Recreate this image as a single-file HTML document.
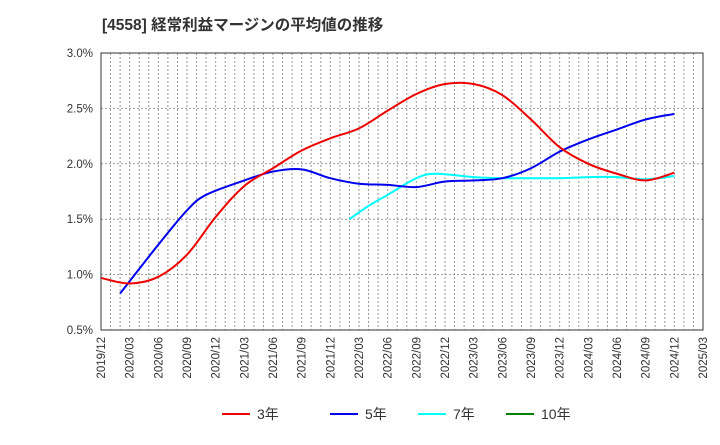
<!DOCTYPE html>
<html><head><meta charset="utf-8"><style>
body{margin:0;background:#fff;font-family:"Liberation Sans","Noto Sans CJK JP",sans-serif}
</style></head><body>
<svg id="c" width="720" height="440" xmlns="http://www.w3.org/2000/svg">
<text x="102" y="30" font-size="15.5" font-weight="bold" fill="#333">[4558]  経常利益マージンの平均値の推移</text>
</svg>
<script>
const yTicks=[0.5,1.0,1.5,2.0,2.5,3.0];
const xLabels=["2019/12","2020/03","2020/06","2020/09","2020/12","2021/03","2021/06","2021/09","2021/12","2022/03","2022/06","2022/09","2022/12","2023/03","2023/06","2023/09","2023/12","2024/03","2024/06","2024/09","2024/12","2025/03"];
// series: month offsets from 2019/12 and values (%)
const s3m=[0,3,6,9,12,15,18,21,24,27,30,33,36,39,42,45,48,51,54,57,60];
const s3v=[0.97,0.92,0.98,1.18,1.52,1.80,1.96,2.12,2.23,2.32,2.48,2.63,2.72,2.72,2.62,2.40,2.15,2.00,1.91,1.85,1.92];
const s5m=[2,6,9,11,15,18,21,24,27,30,33,36,39,42,45,48,51,54,57,60];
const s5v=[0.83,1.27,1.58,1.72,1.85,1.93,1.95,1.87,1.82,1.81,1.79,1.84,1.85,1.87,1.96,2.11,2.22,2.31,2.40,2.45];
const s7m=[26,28,30,33,35,39,42,45,48,51,54,57,60];
const s7v=[1.50,1.62,1.72,1.87,1.91,1.88,1.87,1.87,1.87,1.88,1.88,1.86,1.89];
const L=101,R=703,T=53,B=330;
const X=m=>L+(R-L)*m/63;
const Y=v=>B-(B-T)*(v-0.5)/2.5;
const svg=document.getElementById('c');const NS="http://www.w3.org/2000/svg";
function mk(t,a,name,parent){const e=document.createElementNS(NS,t);for(const k in a)e.setAttribute(k,a[k]);


(parent||svg).appendChild(e);return e;}
for(let m=1;m<63;m++){mk('line',{x1:X(m),x2:X(m),y1:T,y2:B,stroke:'#999','stroke-dasharray':'2,2','stroke-width':1},'v-grid');}
yTicks.forEach(v=>{if(v>0.5&&v<3)mk('line',{x1:L,x2:R,y1:Y(v),y2:Y(v),stroke:'#999','stroke-dasharray':'2,2'},'h-grid');
const t=mk('text',{x:L-8,y:Y(v)+4,'text-anchor':'end','font-size':11.5,fill:'#333'},'y-tick-label');t.textContent=v.toFixed(1)+'%';});
mk('rect',{x:L,y:T,width:R-L,height:B-T,fill:'none',stroke:'#333'},'plot-frame');
xLabels.forEach((s,i)=>{const x=X(i*3);const t=mk('text',{x:0,y:0,transform:`translate(${x+4},${B+7}) rotate(-90)`,'text-anchor':'end','font-size':11.5,fill:'#333'},'x-tick-label');t.textContent=s;});
function path(ms,vs){const p=ms.map((m,i)=>[X(m),Y(vs[i])]);let d=`M${p[0][0]},${p[0][1]}`;
for(let i=0;i<p.length-1;i++){const p0=p[i-1]||p[i],p1=p[i],p2=p[i+1],p3=p[i+2]||p2;
d+=`C${p1[0]+(p2[0]-p0[0])/6},${p1[1]+(p2[1]-p0[1])/6} ${p2[0]-(p3[0]-p1[0])/6},${p2[1]-(p3[1]-p1[1])/6} ${p2[0]},${p2[1]}`;}return d;}
mk('path',{d:path(s7m,s7v),fill:'none',stroke:'#00ffff','stroke-width':2},'series-7y');
mk('path',{d:path(s5m,s5v),fill:'none',stroke:'#0000ee','stroke-width':2},'series-5y');
mk('path',{d:path(s3m,s3v),fill:'none',stroke:'#ee0000','stroke-width':2},'series-3y');
[["3年","#ee0000",222],["5年","#0000ee",330],["7年","#00ffff",418],["10年","#008000",506]].forEach(l=>{
mk('line',{x1:l[2],x2:l[2]+28,y1:414,y2:414,stroke:l[1],'stroke-width':2},'legend-swatch');
const t=mk('text',{x:l[2]+35,y:419,'font-size':14,fill:'#333'},'legend-entry');t.textContent=l[0];});
</script>
</body></html>
